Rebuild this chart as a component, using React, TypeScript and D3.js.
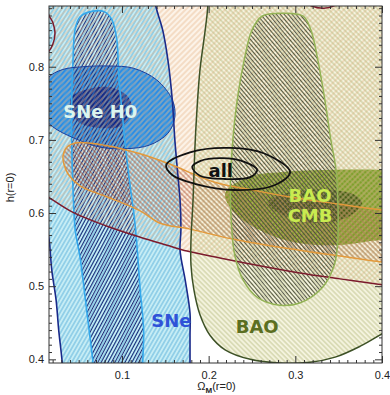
import { useEffect, useRef } from 'react'
import * as d3 from 'd3'

type Pt = [number, number]

// eixos
const omegaTicks = [0.1, 0.2, 0.3, 0.4]
const hTicks = [0.4, 0.5, 0.6, 0.7, 0.8]
const omegaRange: [number, number] = [0.0158, 0.4]
const hRange: [number, number] = [0.395, 0.883]

// contornos, em (Omega_M, h)
const sne2: Pt[] = [
  [0.032, 0.372], [0.031, 0.396], [0.027, 0.44], [0.024, 0.481], [0.019, 0.522], [0.016, 0.563],
  [0.011, 0.597], [0.0, 0.686], [0.0, 0.932], [0.132, 0.932], [0.139, 0.883], [0.147, 0.85],
  [0.153, 0.809], [0.158, 0.755], [0.161, 0.7], [0.165, 0.645], [0.167, 0.618], [0.168, 0.577],
  [0.167, 0.549], [0.173, 0.508], [0.1785, 0.463], [0.1785, 0.433], [0.1785, 0.396], [0.1785, 0.372]
]
const sne1: Pt[] = [
  [0.0458, 0.85], [0.0515, 0.868], [0.0665, 0.876], [0.08, 0.875], [0.0885, 0.864], [0.094, 0.837],
  [0.0965, 0.782], [0.1, 0.741], [0.1035, 0.696], [0.11, 0.632], [0.115, 0.586], [0.1185, 0.536],
  [0.121, 0.495], [0.125, 0.44], [0.124, 0.396], [0.124, 0.372], [0.068, 0.372], [0.0665, 0.396],
  [0.061, 0.45], [0.0515, 0.54], [0.046, 0.577], [0.0435, 0.632], [0.042, 0.696], [0.042, 0.755],
  [0.0435, 0.809]
]
const h0Outer: Pt[] = [
  [0.005, 0.759], [0.015, 0.785], [0.031, 0.796], [0.055, 0.8], [0.086, 0.801], [0.113, 0.798],
  [0.14, 0.782], [0.158, 0.755], [0.161, 0.731], [0.153, 0.709], [0.132, 0.693], [0.106, 0.688],
  [0.075, 0.69], [0.0435, 0.703], [0.02, 0.718], [0.008, 0.734]
]
const h0Inner: Pt[] = [
  [0.041, 0.741], [0.042, 0.759], [0.0665, 0.771], [0.09, 0.771], [0.107, 0.759], [0.1115, 0.741],
  [0.101, 0.72], [0.078, 0.716], [0.0515, 0.723]
]
const orangeBand: Pt[] = [
  [0.032, 0.678], [0.0365, 0.69], [0.048, 0.696], [0.083, 0.692], [0.121, 0.681], [0.155, 0.667],
  [0.207, 0.642], [0.248, 0.632], [0.294, 0.622], [0.3515, 0.612], [0.4, 0.604], [0.467, 0.593],
  [0.467, 0.522], [0.4, 0.533], [0.305, 0.549], [0.233, 0.563], [0.1785, 0.578], [0.144, 0.586],
  [0.121, 0.603], [0.083, 0.622], [0.0515, 0.637], [0.038, 0.653], [0.033, 0.667]
]
const maroon: Pt[] = [
  [0.0, 0.631], [0.0146, 0.622], [0.0435, 0.601], [0.083, 0.582], [0.121, 0.567], [0.152, 0.556],
  [0.175, 0.548], [0.213, 0.5385], [0.259, 0.528], [0.305, 0.518], [0.3515, 0.51], [0.4, 0.502],
  [0.467, 0.491], [0.467, 0.932], [0.357, 0.932], [0.355, 0.894], [0.346, 0.884], [0.333, 0.88],
  [0.319, 0.883], [0.305, 0.894], [0.303, 0.932], [0.0285, 0.932], [0.0146, 0.875], [0.02, 0.861],
  [0.0227, 0.846], [0.02, 0.83], [0.0146, 0.82], [0.0, 0.812]
]
const bao2: Pt[] = [
  [0.199, 0.932], [0.199, 0.883], [0.196, 0.85], [0.19, 0.796], [0.1865, 0.741], [0.184, 0.686],
  [0.182, 0.618], [0.1796, 0.563], [0.1796, 0.529], [0.183, 0.495], [0.19, 0.461], [0.2015, 0.433],
  [0.219, 0.413], [0.248, 0.4], [0.282, 0.395], [0.317, 0.396], [0.346, 0.403], [0.375, 0.418],
  [0.4035, 0.437], [0.4785, 0.481], [0.4785, 0.932]
]
const bao1: Pt[] = [
  [0.25, 0.85], [0.2615, 0.869], [0.286, 0.873], [0.309, 0.869], [0.318, 0.85], [0.326, 0.809],
  [0.334, 0.755], [0.341, 0.7], [0.347, 0.659], [0.349, 0.618], [0.349, 0.563], [0.345, 0.529],
  [0.331, 0.498], [0.305, 0.477], [0.282, 0.474], [0.257, 0.484], [0.24, 0.508], [0.23, 0.543],
  [0.226, 0.5905], [0.225, 0.6315], [0.227, 0.686], [0.233, 0.755], [0.241, 0.809]
]
const cmbOuter: Pt[] = [
  [0.219, 0.627], [0.2454, 0.649], [0.285, 0.656], [0.342, 0.659], [0.4, 0.659], [0.444, 0.656],
  [0.444, 0.563], [0.4, 0.563], [0.349, 0.556], [0.303, 0.559], [0.265, 0.573], [0.23, 0.6]
]
const cmbInner: Pt[] = [
  [0.2685, 0.615], [0.296, 0.629], [0.342, 0.6315], [0.369, 0.6246], [0.377, 0.6137],
  [0.361, 0.5946], [0.323, 0.586], [0.2915, 0.5946], [0.273, 0.607]
]
const allOuter: Pt[] = [
  [0.151, 0.6656], [0.1785, 0.683], [0.225, 0.689], [0.265, 0.681], [0.294, 0.656],
  [0.276, 0.638], [0.23, 0.6315], [0.184, 0.64], [0.158, 0.652]
]
const allInner: Pt[] = [
  [0.181, 0.663], [0.19, 0.671], [0.2154, 0.675], [0.2419, 0.6697], [0.256, 0.659],
  [0.248, 0.649], [0.219, 0.6465], [0.19, 0.651]
]

// rotulos: texto, posicao (Omega_M, h), cor
const labels: { text: string; at: Pt; color: string }[] = [
  { text: 'SNe H0', at: [0.075, 0.73], color: '#dcf5ef' },
  { text: 'SNe', at: [0.157, 0.444], color: '#2f52d8' },
  { text: 'BAO', at: [0.256, 0.436], color: '#5b6e21' },
  { text: 'BAO', at: [0.317, 0.615], color: '#c8eb50' },
  { text: 'CMB', at: [0.317, 0.588], color: '#c8eb50' },
  { text: 'all', at: [0.214, 0.649], color: '#111' }
]

function Hatch({ id, color, angle, gap, w }: { id: string; color: string; angle: number; gap: number; w: number }) {
  return (
    <pattern id={id} patternUnits="userSpaceOnUse" width={gap} height={10} patternTransform={`rotate(${angle})`}>
      <line x1={gap / 2} y1={0} x2={gap / 2} y2={10} stroke={color} strokeWidth={w} />
    </pattern>
  )
}

export default function App() {
  const axesRef = useRef<SVGGElement>(null)
  const width = 390
  const height = 395
  const margin = { top: 6, right: 8, bottom: 32, left: 49 }

  const x = d3.scaleLinear().domain(omegaRange).range([margin.left, width - margin.right])
  const y = d3.scaleLinear().domain(hRange).range([height - margin.bottom, margin.top])

  const path = d3.line<Pt>()
    .x(d => x(d[0]))
    .y(d => y(d[1]))
    .curve(d3.curveCatmullRomClosed.alpha(0.5))

  const x0 = margin.left
  const x1 = width - margin.right
  const y0 = height - margin.bottom
  const y1 = margin.top

  useEffect(() => {
    const g = d3.select(axesRef.current)
    g.selectAll('*').remove()

    const minorX = d3.range(0.02, 0.4001, 0.01).filter(v => Math.abs(v * 10 - Math.round(v * 10)) > 0.01)
    const minorY = d3.range(0.4, 0.8801, 0.01).filter(v => Math.abs(v * 10 - Math.round(v * 10)) > 0.01)

    const style = (s: any) => {
      s.select('.domain').remove()
      s.selectAll('line').attr('stroke', '#333')
      s.attr('font-family', 'Liberation Sans, Arial, sans-serif').attr('font-size', 11)
      s.selectAll('text').attr('fill', '#222')
    }

    // eixo x
    g.append('g').attr('transform', `translate(0,${y0})`)
      .call(d3.axisBottom(x).tickValues(omegaTicks).tickSizeInner(-7).tickSizeOuter(0).tickPadding(8).tickFormat(d3.format('.1f')))
      .call(style)
    g.append('g').attr('transform', `translate(0,${y0})`)
      .call(d3.axisBottom(x).tickValues(minorX).tickSizeInner(-3).tickSizeOuter(0).tickFormat(() => ''))
      .call(style)
    g.append('g').attr('transform', `translate(0,${y1})`)
      .call(d3.axisTop(x).tickValues(omegaTicks).tickSizeInner(-7).tickSizeOuter(0).tickFormat(() => ''))
      .call(style)
    g.append('g').attr('transform', `translate(0,${y1})`)
      .call(d3.axisTop(x).tickValues(minorX).tickSizeInner(-3).tickSizeOuter(0).tickFormat(() => ''))
      .call(style)

    // eixo y
    g.append('g').attr('transform', `translate(${x0},0)`)
      .call(d3.axisLeft(y).tickValues(hTicks).tickSizeInner(-7).tickSizeOuter(0).tickPadding(5).tickFormat(d3.format('.1f')))
      .call(style)
    g.append('g').attr('transform', `translate(${x0},0)`)
      .call(d3.axisLeft(y).tickValues(minorY).tickSizeInner(-3).tickSizeOuter(0).tickFormat(() => ''))
      .call(style)
    g.append('g').attr('transform', `translate(${x1},0)`)
      .call(d3.axisRight(y).tickValues(hTicks).tickSizeInner(-7).tickSizeOuter(0).tickFormat(() => ''))
      .call(style)
    g.append('g').attr('transform', `translate(${x1},0)`)
      .call(d3.axisRight(y).tickValues(minorY).tickSizeInner(-3).tickSizeOuter(0).tickFormat(() => ''))
      .call(style)
  }, [])

  return (
    <div style={{ position: 'absolute', left: 0, top: 0, width, height, background: '#fff' }}>
      <svg width={width} height={height} style={{ display: 'block' }}>
        <defs>
          <clipPath id="plotArea">
            <rect x={x0} y={y1} width={x1 - x0} height={y0 - y1} />
          </clipPath>
          <Hatch id="hSne2" color="#4aa6d6" angle={30} gap={3.5} w={0.8} />
          <Hatch id="hSne1" color="#1f2d78" angle={28} gap={3} w={1} />
          <Hatch id="hMaroon" color="#e8b98e" angle={45} gap={4} w={0.8} />
          <Hatch id="hOrange" color="#a9472c" angle={-45} gap={3.5} w={0.8} />
          <Hatch id="hBao2" color="#aeb373" angle={-45} gap={3.5} w={0.7} />
          <Hatch id="hBao1" color="#4a4d3a" angle={-40} gap={3} w={0.9} />
        </defs>

        <rect x={x0} y={y1} width={x1 - x0} height={y0 - y1} fill="#fff" />

        <g clipPath="url(#plotArea)">
          {/* fundos */}
          <path d={path(maroon) ?? ''} fill="#fcf3e8" />
          <path d={path(bao2) ?? ''} fill="#f4f3de" />
          <path d={path(sne2) ?? ''} fill="#c6edf5" />

          {/* elipses cheias */}
          <path d={path(h0Outer) ?? ''} fill="#2a8ce6" />
          <path d={path(h0Inner) ?? ''} fill="#10288a" />
          <path d={path(cmbOuter) ?? ''} fill="#809f2c" />
          <path d={path(cmbInner) ?? ''} fill="#4a5f17" />

          {/* hachuras */}
          <path d={path(sne2) ?? ''} fill="url(#hSne2)" />
          <path d={path(sne1) ?? ''} fill="url(#hSne1)" />
          <path d={path(maroon) ?? ''} fill="url(#hMaroon)" />
          <path d={path(orangeBand) ?? ''} fill="url(#hOrange)" />
          <path d={path(bao2) ?? ''} fill="url(#hBao2)" />
          <path d={path(bao1) ?? ''} fill="url(#hBao1)" />

          {/* contornos */}
          <path d={path(sne2) ?? ''} fill="none" stroke="#1a2a8a" strokeWidth={1.6} />
          <path d={path(sne1) ?? ''} fill="none" stroke="#35a9ec" strokeWidth={1.6} />
          <path d={path(h0Outer) ?? ''} fill="none" stroke="#1a3c9c" strokeWidth={1} />
          <path d={path(maroon) ?? ''} fill="none" stroke="#7b1a2c" strokeWidth={1.5} />
          <path d={path(orangeBand) ?? ''} fill="none" stroke="#e3993a" strokeWidth={1.5} />
          <path d={path(bao2) ?? ''} fill="none" stroke="#3d5126" strokeWidth={1.5} />
          <path d={path(bao1) ?? ''} fill="none" stroke="#93b355" strokeWidth={1.5} />
          <path d={path(allOuter) ?? ''} fill="none" stroke="#111" strokeWidth={1.8} />
          <path d={path(allInner) ?? ''} fill="none" stroke="#111" strokeWidth={1.8} />

          {labels.map((l, i) => (
            <text key={i} x={x(l.at[0])} y={y(l.at[1])} textAnchor="middle" fill={l.color}
              fontFamily="DejaVu Sans, sans-serif" fontWeight="bold" fontSize={18}>
              {l.text}
            </text>
          ))}
        </g>

        <rect x={x0} y={y1} width={x1 - x0} height={y0 - y1} fill="none" stroke="#333" strokeWidth={1} />
        <g ref={axesRef} />

        <text transform={`translate(14,${(y0 + y1) / 2 + 3}) rotate(-90)`} textAnchor="middle"
          fontFamily="Liberation Sans, Arial, sans-serif" fontSize={11} fill="#222">h(r=0)</text>
        <text x={(x0 + x1) / 2 + 1} y={390} textAnchor="middle"
          fontFamily="Liberation Sans, Arial, sans-serif" fontSize={11} fill="#222">
          Ω<tspan fontSize={8} fontWeight="bold" dy={3}>M</tspan><tspan dy={-3}>(r=0)</tspan>
        </text>
      </svg>
    </div>
  )
}
